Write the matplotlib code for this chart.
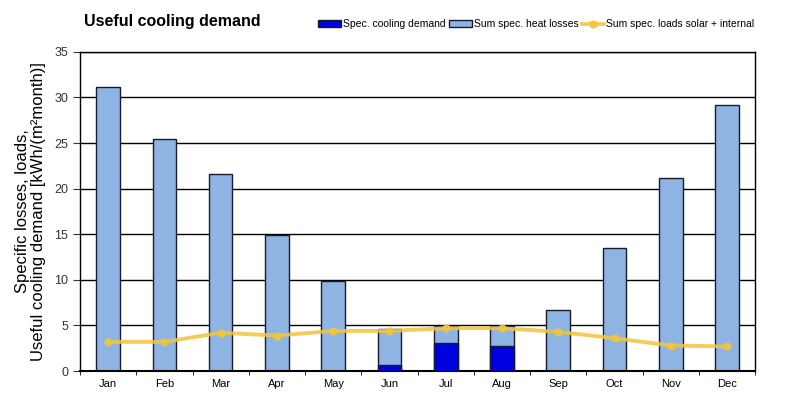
import numpy as np
import matplotlib.pyplot as plt

plt.rcParams['font.family'] = ['Liberation Sans', 'DejaVu Sans']

months = ['Jan', 'Feb', 'Mar', 'Apr', 'May', 'Jun', 'Jul', 'Aug', 'Sep', 'Oct', 'Nov', 'Dec']
heat_losses = [31.1, 25.4, 21.6, 14.9, 9.9, 4.6, 4.9, 4.9, 6.7, 13.5, 21.2, 29.2]
cooling = [0, 0, 0, 0, 0, 0.7, 3.1, 2.7, 0, 0, 0, 0]
loads = [3.2, 3.2, 4.2, 3.9, 4.4, 4.4, 4.7, 4.7, 4.3, 3.6, 2.8, 2.7]

fig = plt.figure(figsize=(8, 3.99), dpi=100)
ax = fig.add_axes([0.1, 0.07, 0.844, 0.8])

x = np.arange(len(months))
ax.set_axisbelow(True)
ax.yaxis.grid(True, color='black', linewidth=1)
b1 = ax.bar(x, heat_losses, width=0.42, color='#8eb4e3', edgecolor='#1a1a2e', linewidth=1, zorder=2)
b2 = ax.bar(x, cooling, width=0.42, color='#0000e0', edgecolor='#1a1a2e', linewidth=1, zorder=3)
ln, = ax.plot(x, loads, color='#f2c53d', linewidth=2.8, marker='o', markersize=5, zorder=4, alpha=0.85)

ax.set_xlim(-0.5, 11.5)
ax.set_ylim(0, 35)
ax.set_yticks(range(0, 36, 5))
ax.set_xticks(x)
ax.set_xticklabels(months, fontsize=8)
ax.set_xticks(np.arange(-0.5, 12, 1), minor=True)
ax.tick_params(axis='x', which='major', length=0, pad=6)
ax.tick_params(axis='x', which='minor', length=3, direction='out')
ax.tick_params(axis='y', labelsize=9, length=5, direction='out', colors='#333333')
for s in ax.spines.values():
    s.set_linewidth(1)
ax.spines['bottom'].set_linewidth(1.5)

ax.set_ylabel('Specific losses, loads,\nUseful cooling demand [kWh/(m²month)]', fontsize=12, linespacing=1.05,
              labelpad=6)

fig.text(0.105, 0.935, 'Useful cooling demand', fontsize=11.5, fontweight='bold')
fig.legend([b2, b1, ln], ['Spec. cooling demand', 'Sum spec. heat losses', 'Sum spec. loads solar + internal'],
           loc='upper right', bbox_to_anchor=(0.955, 0.975), ncol=3, frameon=False, fontsize=7.5,
           handlelength=2.2, handleheight=0.6, columnspacing=0.3, handletextpad=0.2)

fig.savefig('out.png', dpi=100)
